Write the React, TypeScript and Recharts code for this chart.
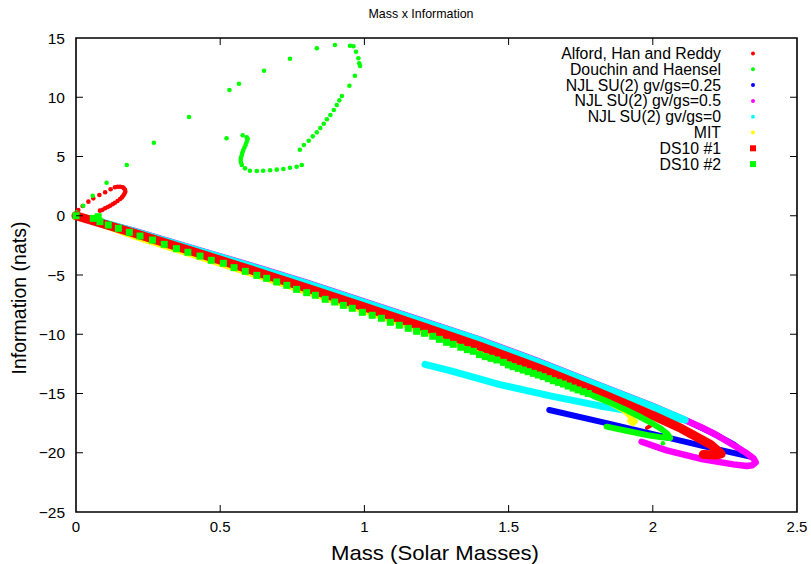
import { ScatterChart, Scatter, XAxis, YAxis, ReferenceArea } from "recharts";

type Pt = [number, number];

// axis ticks
const massTicks = [0, 0.5, 1, 1.5, 2, 2.5];
const infoTicks = [-25, -20, -15, -10, -5, 0, 5, 10, 15];

const seriesNames = [
  "Alford, Han and Reddy",
  "Douchin and Haensel",
  "NJL SU(2) gv/gs=0.25",
  "NJL SU(2) gv/gs=0.5",
  "NJL SU(2) gv/gs=0",
  "MIT",
  "DS10 #1",
  "DS10 #2",
];

// Alford, Han and Reddy: small loop near the origin (dots) + hidden branch ending near 2.0
const alfordLoop: Pt[] = [
  [0, 0], [0.008, 0.49], [0.023, 0.82], [0.043, 1.19], [0.06, 1.47], [0.081, 1.75],
  [0.101, 1.98], [0.12, 2.23], [0.135, 2.4], [0.145, 2.45], [0.153, 2.45], [0.162, 2.4],
  [0.166, 2.32], [0.17, 2.18], [0.171, 2.03], [0.168, 1.86], [0.164, 1.7], [0.159, 1.55],
  [0.153, 1.41], [0.144, 1.25], [0.135, 1.1], [0.127, 0.97], [0.118, 0.85], [0.11, 0.74],
  [0.101, 0.63], [0.092, 0.5], [0.083, 0.43],
];
const alfordBranch: Pt[] = [
  [0, 0], [0.5, -3.8], [1.0, -7.8], [1.5, -12.0], [1.8, -14.8], [1.95, -16.6],
  [1.99, -17.2], [2.0, -17.6], [1.98, -17.9],
];

// Douchin and Haensel: sparse dots going up into the big loop
const douchinDots: Pt[] = [
  [0, 0], [0.002, 0.26], [0.025, 0.85], [0.058, 1.69], [0.106, 2.79], [0.176, 4.28],
  [0.27, 6.16], [0.392, 8.33], [0.522, 6.54], [0.532, 10.61], [0.565, 11.14], [0.652, 12.24],
  [0.742, 13.25], [0.835, 14.13], [0.898, 14.41], [0.95, 14.35], [0.962, 14.3], [0.971, 13.84],
  [0.979, 13.29], [0.982, 12.86], [0.985, 12.64], [0.967, 11.82], [0.948, 10.97], [0.922, 10.11],
  [0.913, 9.74], [0.904, 9.35], [0.894, 8.92], [0.882, 8.5], [0.87, 8.14], [0.859, 7.77],
  [0.847, 7.41], [0.835, 7.04], [0.821, 6.7], [0.807, 6.33], [0.79, 5.97], [0.776, 5.57],
  [0.783, 4.28], [0.765, 4.14], [0.742, 4.05], [0.719, 3.95], [0.696, 3.89], [0.673, 3.84],
  [0.649, 3.8], [0.627, 3.78], [0.603, 3.8], [0.586, 4.0], [0.575, 4.28], [0.572, 4.49],
  [0.571, 4.7], [0.572, 4.92], [0.575, 5.13], [0.577, 5.34], [0.58, 5.55], [0.584, 5.76],
  [0.588, 5.97], [0.591, 6.18], [0.594, 6.39], [0.595, 6.5], [0.592, 6.62], [0.578, 6.79],
  [2.035, -19.2], [2.0, -19.45],
];

// NJL SU(2) gv/gs=0.25
const njl025: Pt[] = [
  [0, 0], [0.1, -0.6], [0.2, -1.3], [0.4, -2.75], [0.6, -4.2], [0.8, -5.7], [1.0, -7.3],
  [1.2, -8.9], [1.4, -10.5], [1.6, -12.3], [1.8, -14.2], [2.0, -16.1], [2.112, -17.24], [2.2, -18.25],
  [2.28, -19.3], [2.337, -20.33], [2.187, -19.5], [2.048, -18.7], [1.84, -17.5], [1.641, -16.39],
];

// NJL SU(2) gv/gs=0.5
const njl05: Pt[] = [
  [0, 0], [0.2, -1.25], [0.4, -2.7], [0.6, -4.15], [0.8, -5.65], [1.0, -7.25], [1.2, -8.85],
  [1.4, -10.45], [1.6, -12.25], [1.8, -14.15], [2.0, -16.05], [2.112, -17.24], [2.164, -17.8],
  [2.221, -18.5], [2.279, -19.35], [2.326, -20.05], [2.35, -20.5], [2.357, -20.8], [2.345, -21.05],
  [2.326, -21.12], [2.279, -20.98], [2.164, -20.5], [2.048, -19.8], [1.961, -19.07],
];

// NJL SU(2) gv/gs=0
const njl0: Pt[] = [
  [0, 0], [0.1, -0.6], [0.2, -1.3], [0.4, -2.75], [0.6, -4.2], [0.8, -5.7], [1.0, -7.3],
  [1.2, -8.9], [1.4, -10.5], [1.6, -12.3], [1.8, -14.2], [2.0, -16.1], [2.112, -17.24],
  [2.05, -16.95], [1.967, -16.67], [1.875, -16.3], [1.817, -16.05], [1.644, -15.2],
  [1.47, -14.25], [1.3, -13.1], [1.21, -12.54],
];

// MIT
const mit: Pt[] = [
  [0, 0], [0.2, -1.78], [0.4, -3.33], [0.6, -4.88], [0.8, -6.48], [1.0, -8.08], [1.2, -9.73],
  [1.4, -11.38], [1.6, -13.18], [1.8, -15.13], [1.9, -16.47], [1.94, -17.35], [1.93, -17.55],
  [1.92, -17.3],
];

// DS10 #1
const ds10a: Pt[] = [
  [0, 0], [0.2, -1.46], [0.4, -2.98], [0.6, -4.52], [0.8, -6.1], [1.0, -7.7], [1.2, -9.35],
  [1.4, -11.02], [1.6, -12.82], [1.8, -14.78], [2.0, -16.85], [2.1, -17.97], [2.2, -19.3],
  [2.237, -20.1], [2.22, -20.2], [2.175, -20.15],
];

// DS10 #2: separated squares, then a dense trail near the maximum mass
const ds10b: Pt[] = [
  [0, 0], [0.06, -0.22], [0.077, -0.08], [0.083, -0.5], [0.112, -0.78], [0.147, -1.06],
  [0.185, -1.4], [0.222, -1.71], [0.265, -2.05], [0.306, -2.41], [0.348, -2.78], [0.388, -3.08],
  [0.43, -3.4], [0.469, -3.76], [0.511, -4.01], [0.548, -4.38], [0.587, -4.69], [0.627, -5.03],
  [0.661, -5.28], [0.696, -5.59], [0.731, -5.87], [0.765, -6.21], [0.8, -6.49], [0.83, -6.71],
  [0.864, -7.05], [0.897, -7.28], [0.927, -7.56], [0.958, -7.81], [0.993, -8.15], [1.027, -8.4],
  [1.059, -8.65], [1.09, -8.99], [1.121, -9.24], [1.152, -9.5], [1.181, -9.75], [1.208, -9.92],
  [1.237, -10.17], [1.26, -10.43], [1.285, -10.68], [1.308, -10.85], [1.334, -11.1], [1.357, -11.3],
  [1.378, -11.44], [1.399, -11.72], [1.419, -11.89], [1.439, -12.03], [1.459, -12.17], [1.482, -12.37],
  [1.499, -12.59], [1.516, -12.74], [1.534, -12.88], [1.551, -13.02], [1.568, -13.16], [1.586, -13.3],
  [1.603, -13.44], [1.62, -13.58], [1.638, -13.75], [1.655, -13.92], [1.673, -14.06], [1.69, -14.2],
  [1.707, -14.37], [1.724, -14.54], [1.741, -14.7], [1.759, -14.85], [1.776, -15.0],
];
const ds10bTrail: Pt[] = [
  [1.776, -15.0], [1.794, -15.2], [1.85, -15.75], [1.9, -16.3], [1.95, -16.9], [2.0, -17.55],
  [2.03, -18.0], [2.05, -18.4], [2.06, -18.75], [2.03, -18.7], [1.99, -18.55], [1.95, -18.35],
  [1.9, -18.1], [1.84, -17.8],
];

const RED = "#ff0000";
const GREEN = "#00ff00";
const BLUE = "#0000ff";
const MAGENTA = "#ff00ff";
const CYAN = "#00ffff";
const YELLOW = "#ffff00";

const legendColors = [RED, GREEN, BLUE, MAGENTA, CYAN, YELLOW, RED, GREEN];

const PLOT_TOP = 38;
const PLOT_BOTTOM = 512;
const PLOT_LEFT = 76;
const PLOT_RIGHT = 797;
const FONT = "'Liberation Sans', Arial, Helvetica, sans-serif";

const rows = (pts: Pt[]) => pts.map(([m, info]) => ({ m, info }));

const dot = (color: string) => (p: any) => <circle cx={p.cx} cy={p.cy} r={2.3} fill={color} />;
const square = (color: string) => (p: any) => (
  <rect x={p.cx - 3.5} y={p.cy - 3.5} width={7} height={7} fill={color} />
);
const noMark = () => <g />;
const trail = (color: string, width: number) => ({
  stroke: color,
  strokeWidth: width,
  strokeLinecap: "round",
  strokeLinejoin: "round",
  fill: "none",
});

const fmt = (v: number) => (v < 0 ? "\u2212" + Math.abs(v) : String(v));

const MassTick = (props: any) => {
  const { x, payload } = props;
  const v = payload.value;
  const inner = v !== 0 && v !== 2.5;
  return (
    <g>
      {inner && <line x1={x} x2={x} y1={PLOT_BOTTOM} y2={PLOT_BOTTOM - 7} stroke="#000" />}
      {inner && <line x1={x} x2={x} y1={PLOT_TOP} y2={PLOT_TOP + 7} stroke="#000" />}
      <text x={x} y={532} textAnchor="middle" fontSize={15} fontFamily={FONT} fill="#000">
        {fmt(v)}
      </text>
    </g>
  );
};

const InfoTick = (props: any) => {
  const { y, payload } = props;
  const v = payload.value;
  const inner = v !== 15 && v !== -25;
  return (
    <g>
      {inner && <line x1={PLOT_LEFT} x2={PLOT_LEFT + 7} y1={y} y2={y} stroke="#000" />}
      {inner && <line x1={PLOT_RIGHT} x2={PLOT_RIGHT - 7} y1={y} y2={y} stroke="#000" />}
      <text x={65} y={y + 5.5} textAnchor="end" fontSize={15.5} fontFamily={FONT} fill="#000">
        {fmt(v)}
      </text>
    </g>
  );
};

export default function App() {
  return (
    <div style={{ position: "absolute", left: 0, top: 0, width: 811, height: 564, background: "#fff" }}>
      <ScatterChart width={811} height={564} margin={{ top: 38, right: 14, bottom: 0, left: 0 }}>
        <XAxis
          type="number"
          dataKey="m"
          domain={[0, 2.5]}
          ticks={massTicks}
          interval={0}
          height={52}
          axisLine={false}
          tickLine={false}
          tick={<MassTick />}
        />
        <YAxis
          type="number"
          dataKey="info"
          domain={[-25, 15]}
          ticks={infoTicks}
          interval={0}
          width={76}
          axisLine={false}
          tickLine={false}
          tick={<InfoTick />}
        />
        <ReferenceArea x1={0} x2={2.5} y1={-25} y2={15} fill="none" stroke="#000" strokeWidth={1.6} ifOverflow="visible" />
        <Scatter data={rows(alfordBranch)} shape={noMark} line={trail(RED, 4)} isAnimationActive={false} />
        <Scatter data={rows(alfordLoop)} shape={dot(RED)} isAnimationActive={false} />
        <Scatter data={rows(douchinDots)} shape={dot(GREEN)} isAnimationActive={false} />
        <Scatter data={rows(njl025)} shape={noMark} line={trail(BLUE, 6)} isAnimationActive={false} />
        <Scatter data={rows(njl05)} shape={noMark} line={trail(MAGENTA, 6.5)} isAnimationActive={false} />
        <Scatter data={rows(njl0)} shape={noMark} line={trail(CYAN, 7)} isAnimationActive={false} />
        <Scatter data={rows(mit)} shape={noMark} line={trail(YELLOW, 5)} isAnimationActive={false} />
        <Scatter data={rows(ds10a)} shape={noMark} line={trail(RED, 9)} isAnimationActive={false} />
        <Scatter data={rows(ds10b)} shape={square(GREEN)} isAnimationActive={false} />
        <Scatter data={rows(ds10bTrail)} shape={noMark} line={trail(GREEN, 6)} isAnimationActive={false} />
      </ScatterChart>
      <svg
        width={811}
        height={564}
        style={{ position: "absolute", left: 0, top: 0, pointerEvents: "none" }}
        fontFamily={FONT}
      >
        <text x={421} y={18} textAnchor="middle" fontSize={13.5} textLength={105} lengthAdjust="spacingAndGlyphs">
          Mass x Information
        </text>
        <text x={435} y={560} textAnchor="middle" fontSize={21} textLength={208} lengthAdjust="spacingAndGlyphs">
          Mass (Solar Masses)
        </text>
        <text x={26} y={298} textAnchor="middle" fontSize={19.5} transform="rotate(-90 26 298)">
          Information (nats)
        </text>
        {seriesNames.map((name, k) => {
          const y = 53.5 + k * 15.8;
          const c = legendColors[k];
          return (
            <g key={name}>
              <text x={721} y={y + 5.5} textAnchor="end" fontSize={15.8}>
                {name}
              </text>
              {k < 6 ? (
                <circle cx={753} cy={y} r={2} fill={c} />
              ) : (
                <rect x={750} y={y - 3} width={6} height={6} fill={c} />
              )}
            </g>
          );
        })}
      </svg>
    </div>
  );
}
